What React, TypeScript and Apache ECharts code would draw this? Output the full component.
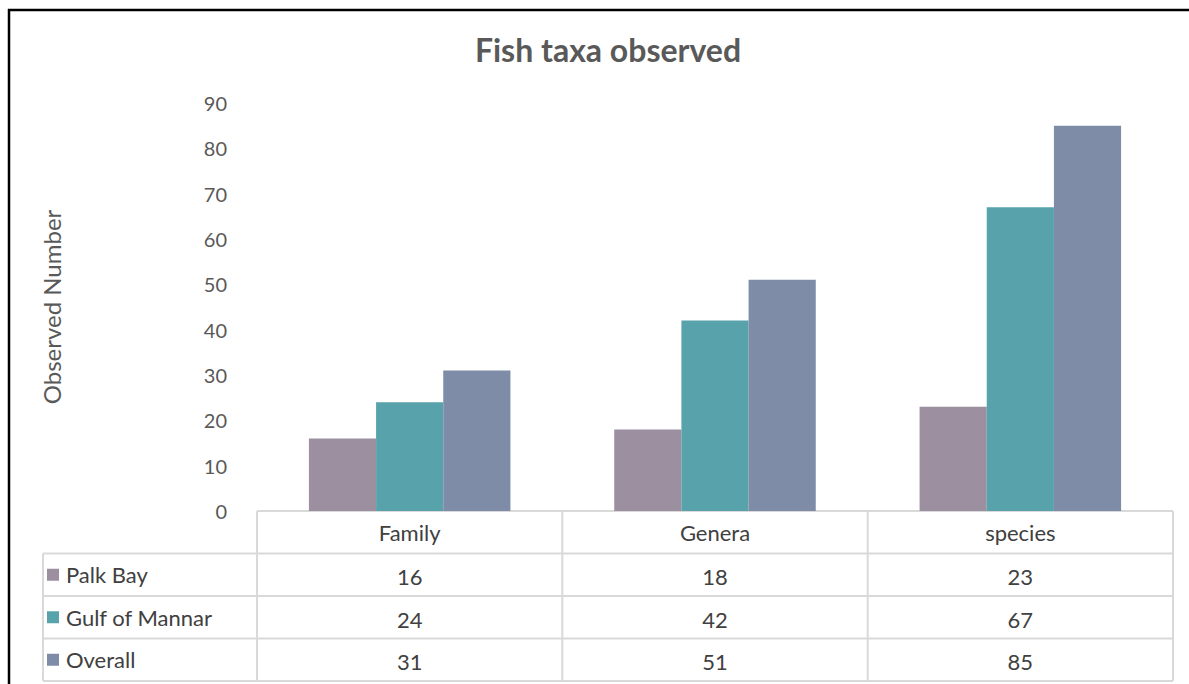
import React, { useEffect, useRef } from "react";
import * as echarts from "echarts";

const categories = ["Family", "Genera", "species"];
const seriesNames = ["Palk Bay", "Gulf of Mannar", "Overall"];
const palkBay = [16, 18, 23];
const gulfOfMannar = [24, 42, 67];
const overall = [31, 51, 85];
const yTicks = { min: 0, max: 90, interval: 10 };
const colors = ["#9b8fa0", "#58a2ab", "#7e8ca8"];

const FONT = "Lato, 'Open Sans', sans-serif";
const W = 1189;
const H = 684;

export default function App() {
  const ref = useRef<HTMLDivElement>(null);
  useEffect(() => {
    if (!ref.current) return;
    const chart = echarts.init(ref.current, undefined, { renderer: "svg", width: W, height: H });
    const seriesData = [palkBay, gulfOfMannar, overall];
    const gridLeft = 257;
    const gridRight = 16;
    const gridTop = 103;
    const gridBottom = H - 511;
    chart.setOption({
      animation: false,
      backgroundColor: "#ffffff",
      title: {
        text: "Fish taxa observed",
        left: 603,
        top: 28,
        textAlign: "center",
        textStyle: { fontFamily: FONT, fontSize: 32, fontWeight: "bold", color: "#595959" },
      },
      grid: { left: gridLeft, right: gridRight, top: gridTop, bottom: gridBottom, containLabel: false },
      xAxis: {
        type: "category",
        data: categories,
        axisLabel: { show: false },
        axisLine: { show: false },
        axisTick: { show: false },
      },
      yAxis: {
        type: "value",
        min: yTicks.min,
        max: yTicks.max,
        interval: yTicks.interval,
        splitLine: { show: false },
        axisLine: { show: false },
        axisTick: { show: false },
        axisLabel: { fontFamily: FONT, fontSize: 20, color: "#595959", margin: 30 },
        name: "Observed Number",
        nameLocation: "middle",
        nameRotate: 90,
        nameGap: 194,
        nameTextStyle: { fontFamily: FONT, fontSize: 24, color: "#595959" },
      },
      series: seriesNames.map((name, i) => ({
        name,
        type: "bar",
        data: seriesData[i],
        itemStyle: { color: colors[i] },
        barGap: "0%",
        barCategoryGap: "34%",
      })),
    });

    // Build the data table from the axis positions
    const c0 = chart.convertToPixel({ xAxisIndex: 0 }, categories[0]) as number;
    const c1 = chart.convertToPixel({ xAxisIndex: 0 }, categories[1]) as number;
    const band = c1 - c0;
    const tableLeft = 43;
    const colStart = c0 - band / 2;
    const colEnd = colStart + band * categories.length;
    const headerTop = 511;
    const rowH = 42.5;
    const lineColor = "#d9d9d9";
    const textColor = "#404040";
    const fs = 22;
    const g: any[] = [];
    // frame
    g.push({ type: "line", shape: { x1: 8, y1: 10, x2: W, y2: 10 }, style: { stroke: "#000", lineWidth: 2.5 } });
    g.push({ type: "line", shape: { x1: 9, y1: 9, x2: 9, y2: H }, style: { stroke: "#000", lineWidth: 2.5 } });
    // horizontal lines
    g.push({ type: "line", shape: { x1: colStart, y1: headerTop, x2: colEnd, y2: headerTop }, style: { stroke: lineColor, lineWidth: 2 } });
    for (let r = 1; r <= seriesNames.length + 1; r++) {
      const y = headerTop + r * rowH;
      g.push({ type: "line", shape: { x1: tableLeft, y1: y, x2: colEnd, y2: y }, style: { stroke: lineColor, lineWidth: 2 } });
    }
    // vertical lines
    const bottomY = headerTop + (seriesNames.length + 1) * rowH;
    g.push({ type: "line", shape: { x1: tableLeft, y1: headerTop + rowH, x2: tableLeft, y2: bottomY }, style: { stroke: lineColor, lineWidth: 2 } });
    for (let c = 0; c <= categories.length; c++) {
      const x = colStart + c * band;
      g.push({ type: "line", shape: { x1: x, y1: headerTop, x2: x, y2: bottomY }, style: { stroke: lineColor, lineWidth: 2 } });
    }
    // header texts
    categories.forEach((cat, c) => {
      g.push({
        type: "text",
        x: colStart + (c + 0.5) * band,
        y: headerTop + rowH / 2,
        style: { text: cat, fontFamily: FONT, fontSize: fs, fill: textColor, align: "center", verticalAlign: "middle" },
      });
    });
    // rows
    seriesNames.forEach((name, r) => {
      const yMid = headerTop + (r + 1.5) * rowH;
      g.push({ type: "rect", shape: { x: 47, y: yMid - 6, width: 12, height: 12 }, style: { fill: colors[r] } });
      g.push({
        type: "text",
        x: 66,
        y: yMid,
        style: { text: name, fontFamily: FONT, fontSize: fs, fill: textColor, align: "left", verticalAlign: "middle" },
      });
      seriesData[r].forEach((v, c) => {
        g.push({
          type: "text",
          x: colStart + (c + 0.5) * band,
          y: yMid + 2,
          style: { text: String(v), fontFamily: FONT, fontSize: fs, fill: textColor, align: "center", verticalAlign: "middle" },
        });
      });
    });
    chart.setOption({ graphic: g });
    return () => chart.dispose();
  }, []);
  return (
    <div
      ref={ref}
      style={{ position: "fixed", left: 0, top: 0, width: W, height: H, background: "#fff" }}
    />
  );
}
